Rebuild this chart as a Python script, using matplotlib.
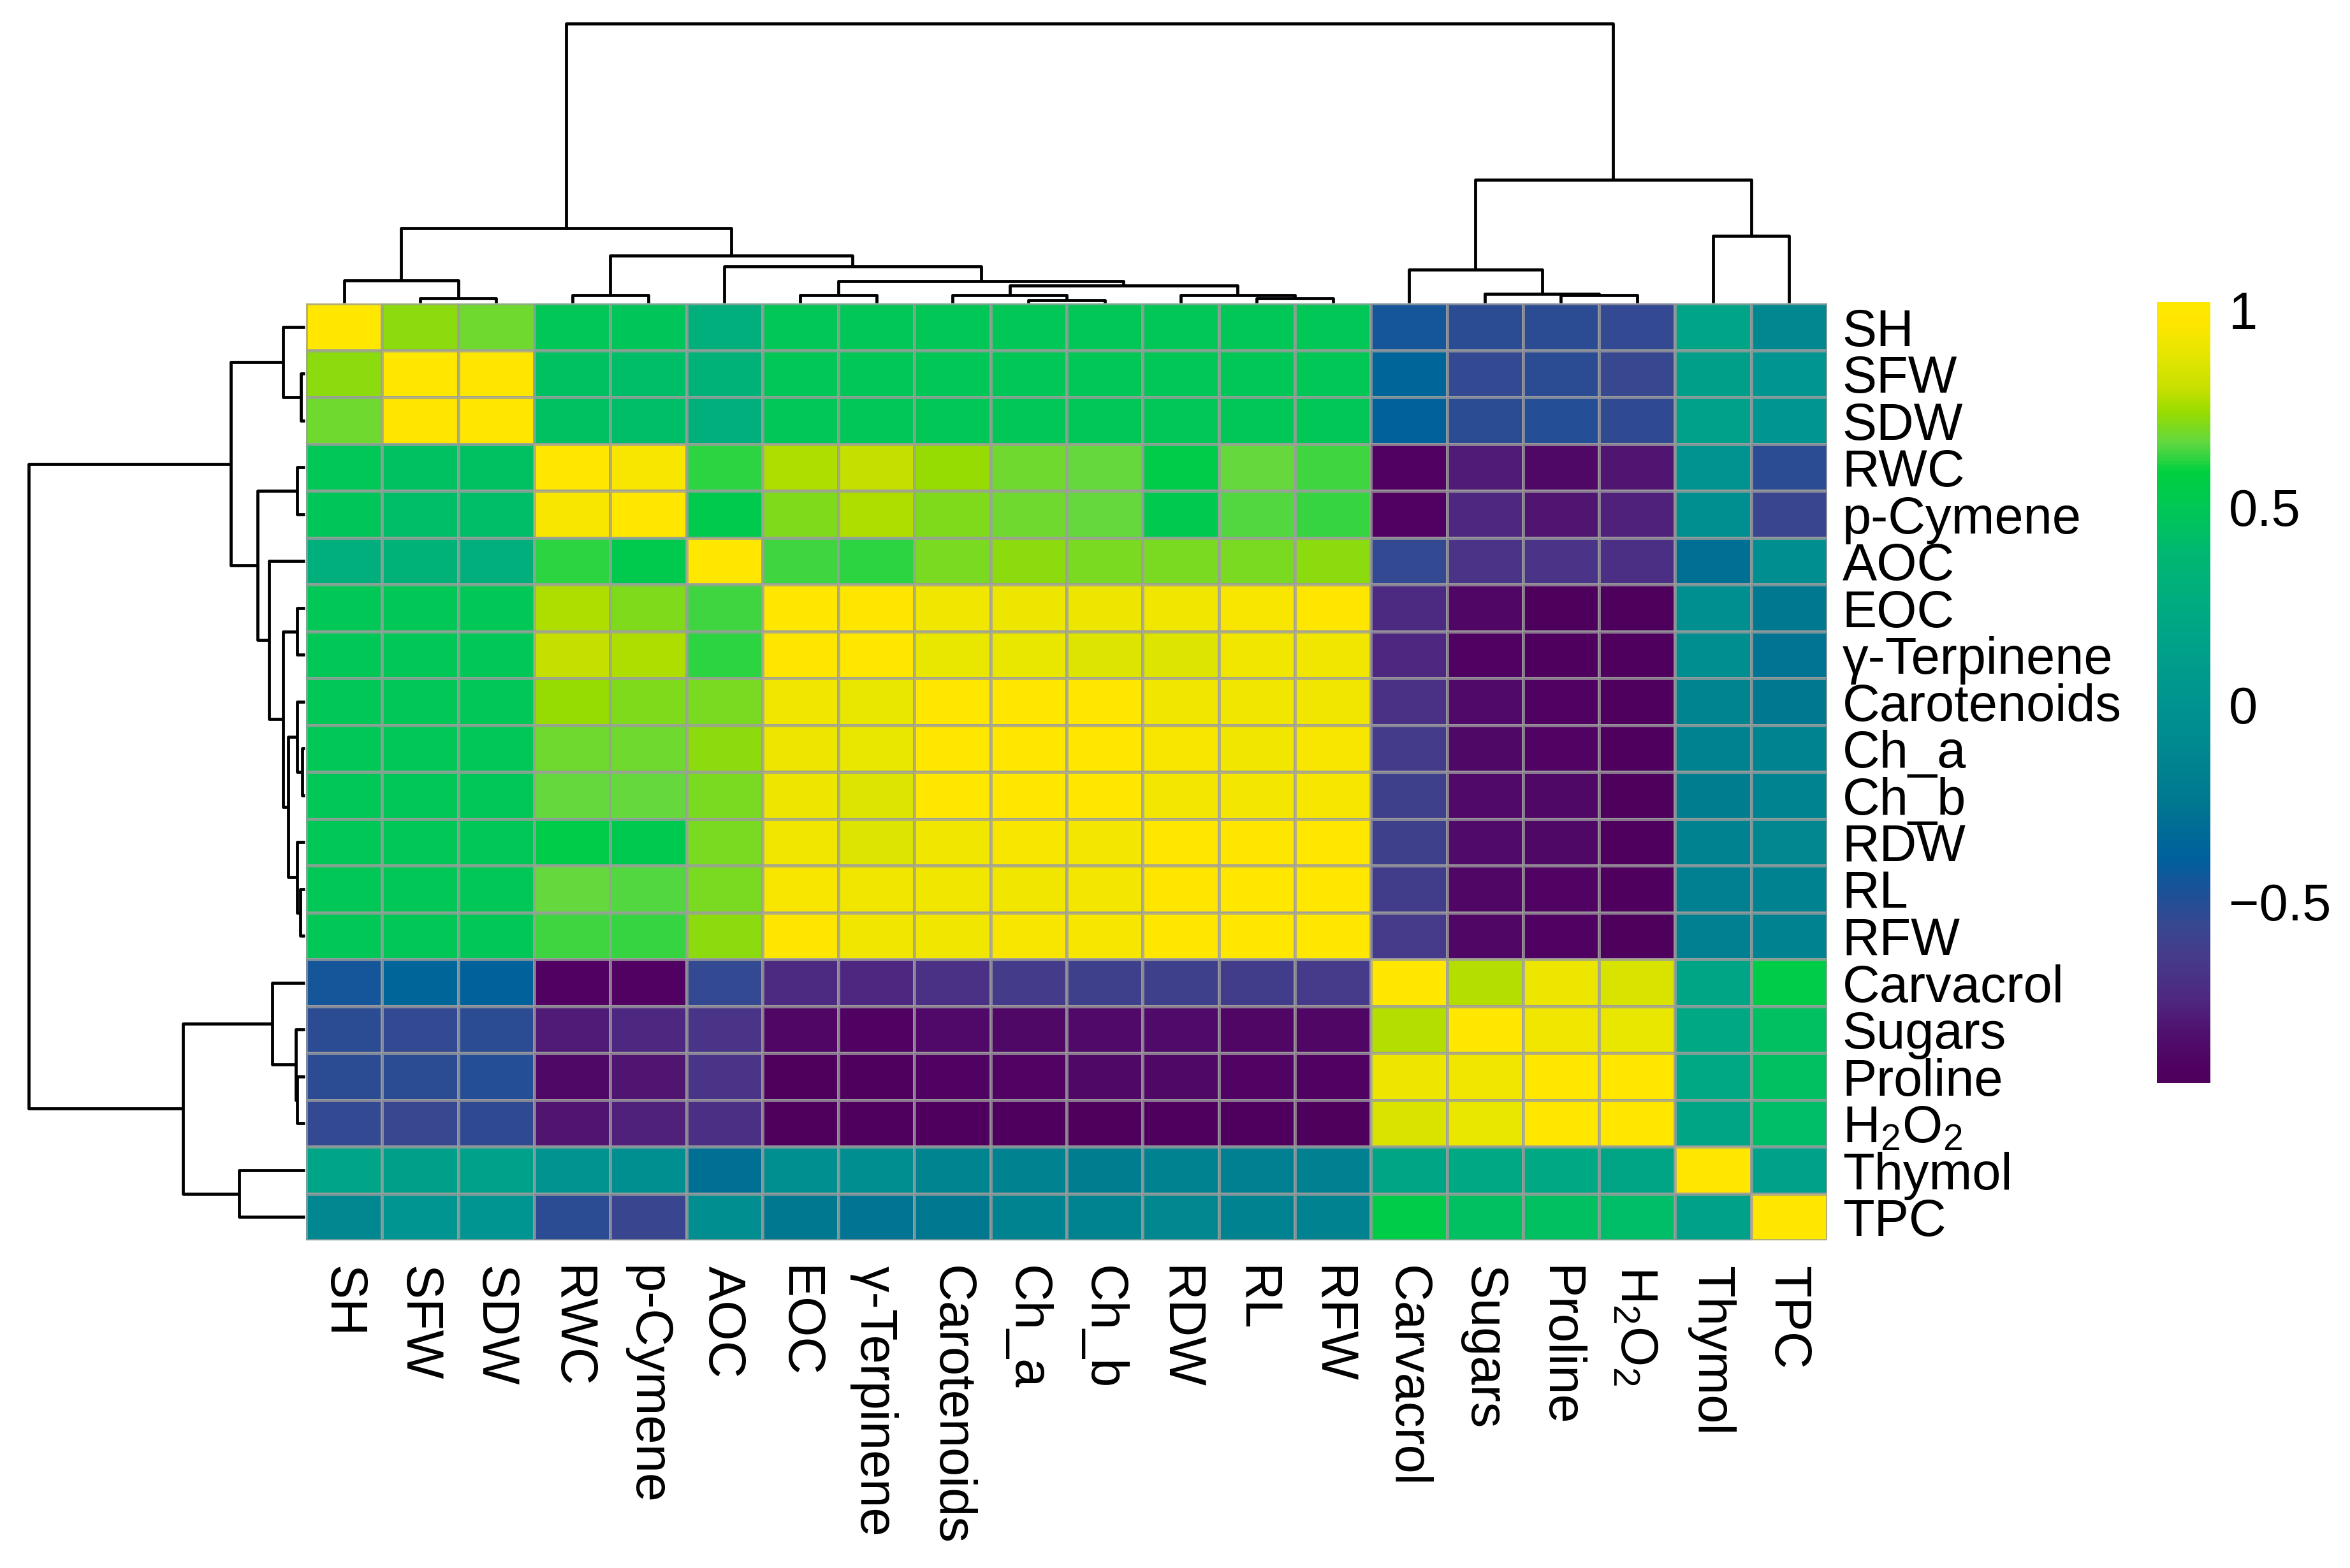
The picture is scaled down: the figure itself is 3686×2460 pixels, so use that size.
import numpy as np
import matplotlib
matplotlib.use('Agg')
import matplotlib.pyplot as plt
from matplotlib.colors import Normalize, LinearSegmentedColormap
from matplotlib.cm import ScalarMappable

plt.rcParams['font.family'] = ['Liberation Sans', 'DejaVu Sans']
plt.rcParams['mathtext.fontset'] = 'custom'
plt.rcParams['mathtext.rm'] = 'Liberation Sans'
plt.rcParams['mathtext.it'] = 'Liberation Sans:italic'

# ---------------- data ----------------
labels = ["SH", "SFW", "SDW", "RWC", "p-Cymene", "AOC", "EOC", "γ-Terpinene",
          "Carotenoids", "Ch_a", "Ch_b", "RDW", "RL", "RFW", "Carvacrol",
          "Sugars", "Proline", "H$_2$O$_2$", "Thymol", "TPC"]

corr = np.array([
    [1.00, 0.72, 0.68, 0.50, 0.48, 0.30, 0.50, 0.50, 0.50, 0.50, 0.50, 0.50, 0.50, 0.50, -0.45, -0.52, -0.52, -0.55, 0.18, -0.12],
    [0.72, 1.00, 0.98, 0.45, 0.42, 0.33, 0.50, 0.50, 0.50, 0.50, 0.50, 0.50, 0.50, 0.50, -0.35, -0.55, -0.52, -0.56, 0.13, 0.02],
    [0.68, 0.98, 1.00, 0.45, 0.42, 0.30, 0.50, 0.50, 0.50, 0.50, 0.50, 0.50, 0.50, 0.50, -0.38, -0.52, -0.50, -0.54, 0.14, 0.02],
    [0.50, 0.45, 0.45, 1.00, 0.95, 0.62, 0.77, 0.80, 0.74, 0.68, 0.67, 0.55, 0.67, 0.64, -0.92, -0.79, -0.88, -0.82, 0.00, -0.52],
    [0.48, 0.42, 0.42, 0.95, 1.00, 0.53, 0.71, 0.77, 0.71, 0.68, 0.67, 0.52, 0.65, 0.63, -0.92, -0.75, -0.82, -0.77, -0.04, -0.58],
    [0.30, 0.33, 0.30, 0.62, 0.53, 1.00, 0.64, 0.62, 0.70, 0.72, 0.70, 0.70, 0.70, 0.72, -0.55, -0.68, -0.68, -0.71, -0.30, -0.05],
    [0.50, 0.50, 0.50, 0.77, 0.71, 0.64, 1.00, 0.98, 0.92, 0.91, 0.91, 0.92, 0.95, 0.98, -0.73, -0.89, -0.95, -0.95, -0.04, -0.24],
    [0.50, 0.50, 0.50, 0.80, 0.77, 0.62, 0.98, 1.00, 0.90, 0.90, 0.86, 0.86, 0.92, 0.92, -0.75, -0.91, -0.94, -0.94, -0.05, -0.27],
    [0.50, 0.50, 0.50, 0.74, 0.71, 0.70, 0.92, 0.90, 1.00, 1.00, 1.00, 0.92, 0.92, 0.92, -0.69, -0.87, -0.91, -0.93, -0.14, -0.24],
    [0.50, 0.50, 0.50, 0.68, 0.68, 0.72, 0.91, 0.90, 1.00, 1.00, 1.00, 0.95, 0.92, 0.95, -0.63, -0.88, -0.90, -0.94, -0.17, -0.15],
    [0.50, 0.50, 0.50, 0.67, 0.67, 0.70, 0.91, 0.86, 1.00, 1.00, 1.00, 0.93, 0.93, 0.94, -0.61, -0.87, -0.88, -0.95, -0.20, -0.15],
    [0.50, 0.50, 0.50, 0.55, 0.52, 0.70, 0.92, 0.86, 0.92, 0.95, 0.93, 1.00, 0.98, 0.99, -0.61, -0.86, -0.88, -0.93, -0.17, -0.12],
    [0.50, 0.50, 0.50, 0.67, 0.65, 0.70, 0.95, 0.92, 0.92, 0.92, 0.93, 0.98, 1.00, 1.00, -0.62, -0.89, -0.90, -0.93, -0.18, -0.17],
    [0.50, 0.50, 0.50, 0.64, 0.63, 0.72, 0.98, 0.92, 0.92, 0.95, 0.94, 0.99, 1.00, 1.00, -0.64, -0.89, -0.91, -0.95, -0.18, -0.16],
    [-0.45, -0.35, -0.38, -0.92, -0.92, -0.55, -0.73, -0.75, -0.69, -0.63, -0.61, -0.61, -0.62, -0.64, 1.00, 0.78, 0.91, 0.85, 0.19, 0.56],
    [-0.52, -0.55, -0.52, -0.79, -0.75, -0.68, -0.89, -0.91, -0.87, -0.88, -0.87, -0.86, -0.89, -0.89, 0.78, 1.00, 0.92, 0.90, 0.22, 0.44],
    [-0.52, -0.52, -0.50, -0.88, -0.82, -0.68, -0.95, -0.94, -0.91, -0.90, -0.88, -0.88, -0.90, -0.91, 0.91, 0.92, 1.00, 0.99, 0.22, 0.44],
    [-0.55, -0.56, -0.54, -0.82, -0.77, -0.71, -0.95, -0.94, -0.93, -0.94, -0.95, -0.93, -0.93, -0.95, 0.85, 0.90, 0.99, 1.00, 0.19, 0.42],
    [0.18, 0.13, 0.14, 0.00, -0.04, -0.30, -0.04, -0.05, -0.14, -0.17, -0.20, -0.17, -0.18, -0.18, 0.19, 0.22, 0.22, 0.19, 1.00, 0.15],
    [-0.12, 0.02, 0.02, -0.52, -0.58, -0.05, -0.24, -0.27, -0.24, -0.15, -0.15, -0.12, -0.17, -0.16, 0.56, 0.44, 0.44, 0.42, 0.15, 1.00],
])

# hierarchical merges (leaf indices 0..19 in display order, new clusters 20..)
merge_a = [9, 1, 12, 3, 6, 16, 11, 8, 15, 27, 24, 0, 14, 5, 23, 18, 31, 32, 36]
merge_b = [10, 2, 13, 4, 7, 17, 22, 20, 25, 26, 29, 21, 28, 30, 33, 19, 34, 35, 37]
merge_h = [0.010, 0.015, 0.016, 0.027, 0.027, 0.027, 0.027, 0.028, 0.033, 0.061,
           0.078, 0.079, 0.118, 0.130, 0.170, 0.239, 0.268, 0.440, 1.000]

cbar_ticks = [-0.5, 0, 0.5, 1]
cbar_ticklabels = ["\u22120.5", "0", "0.5", "1"]
vmin, vmax = -0.96, 1.02

# colour scale as rendered in the reference (a vivid viridis)
cmap_pos = [0.0, 0.018, 0.063, 0.107, 0.158, 0.203, 0.247, 0.286, 0.311, 0.362,
            0.426, 0.49, 0.554, 0.617, 0.681, 0.732, 0.783, 0.821, 0.86, 0.892,
            0.936, 0.975, 1.0]
cmap_col = ["#4e005c", "#500060", "#50106e", "#4e2880", "#463a8a", "#364890",
            "#1a5298", "#00609c", "#006898", "#007890", "#008890", "#009490",
            "#00a08a", "#00ac80", "#00b870", "#00c658", "#00d040", "#60d840",
            "#98dc00", "#c8e000", "#e6e600", "#ffe600", "#ffe800"]
cmap = LinearSegmentedColormap.from_list("vivid_viridis", list(zip(cmap_pos, cmap_col)))

# ---------------- layout ----------------
W, H = 3686, 2460
DPI = 300
fig = plt.figure(figsize=(W / DPI, H / DPI), dpi=DPI)
fig.patch.set_facecolor('white')


def ax_px(x0, y0, x1, y1):
    return fig.add_axes([x0 / W, 1 - y1 / H, (x1 - x0) / W, (y1 - y0) / H])


n = len(labels)
HX0, HY0, HX1, HY1 = 480, 476, 2866, 1946
FS = 19.5

# heatmap
ax = ax_px(HX0, HY0, HX1, HY1)
norm = Normalize(vmin=vmin, vmax=vmax)
ax.pcolormesh(np.arange(n + 1), np.arange(n + 1), corr, cmap=cmap, norm=norm,
              edgecolors=(0.62, 0.62, 0.62, 0.75), linewidth=0.75)
ax.set_xlim(0, n)
ax.set_ylim(n, 0)
ax.axis('off')

for i, lab in enumerate(labels):
    ax.text(n + 0.2, i + 0.62, lab, ha='left', va='center', fontsize=FS, color='black')
    ax.text(i + 0.47, n + 0.55, lab, ha='center', va='top', rotation=270,
            fontsize=FS, color='black')


# dendrograms
def dendro_segments(nleaf, a, b, h):
    pos = {i: i + 0.5 for i in range(nleaf)}
    hei = {i: 0.0 for i in range(nleaf)}
    segs = []
    for k, (l, r, hh) in enumerate(zip(a, b, h)):
        node = nleaf + k
        xl, xr = pos[l], pos[r]
        segs.append(([xl, xl, xr, xr], [hei[l], hh, hh, hei[r]]))
        pos[node] = (xl + xr) / 2
        hei[node] = hh
    return segs


segs = dendro_segments(n, merge_a, merge_b, merge_h)
LW = 1.15

axt = ax_px(HX0, 37, HX1, 475)
for xs, ys in segs:
    axt.plot(xs, ys, color='black', lw=LW, solid_capstyle='butt', clip_on=False)
axt.set_xlim(0, n)
axt.set_ylim(0, 1.0)
axt.axis('off')

axl = ax_px(45, HY0, 478, HY1)
for xs, ys in segs:
    axl.plot(ys, xs, color='black', lw=LW, solid_capstyle='butt', clip_on=False)
axl.set_xlim(1.0, 0)
axl.set_ylim(n, 0)
axl.axis('off')

# colorbar
cax = ax_px(3383, 474, 3467, 1699)
sm = ScalarMappable(norm=norm, cmap=cmap)
cb = fig.colorbar(sm, cax=cax, orientation='vertical')
cb.outline.set_visible(False)
cb.set_ticks(cbar_ticks)
cb.set_ticklabels(cbar_ticklabels)
cax.tick_params(length=0, pad=7, labelsize=FS)

fig.savefig('out.png', dpi=DPI, facecolor='white')
